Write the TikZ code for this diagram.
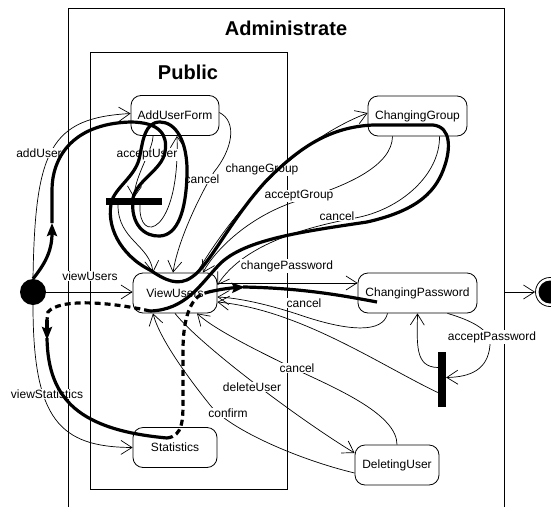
\documentclass[tikz,border=0pt]{standalone}
\usepackage{fontspec}
\setmainfont{Liberation Sans}
\usetikzlibrary{arrows.meta}
\begin{document}
\begin{tikzpicture}[x=1pt,y=-1pt,
  every node/.style={font=\fontsize{12}{14}\selectfont},
  state/.style={draw, line width=0.8pt, rounded corners=10pt, fill=white, minimum height=40pt, inner sep=0pt},
  lbl/.style={fill=white, inner sep=1pt},
  trans/.style={line width=0.7pt, -{Straight Barb[length=11pt,width=14pt,line width=0.7pt]}},
  flow/.style={line width=3.2pt},
  flowtip/.style={flow, -{Stealth[length=13pt,width=10pt,inset=2pt]}},
  flowdash/.style={line width=3.2pt, dash pattern=on 6pt off 4pt},
  syncbar/.style={fill=black, inner sep=0pt},
  frame/.style={draw, line width=0.8pt},
  title/.style={font=\fontsize{20}{24}\selectfont\bfseries}
]
\clip (0,0) rectangle (551,506);
\fill[white] (0,0) rectangle (551,506);

% composite states
\draw[frame] (68,530) -- (68,8) -- (504,8) -- (504,530);
\draw[frame] (90,52) rectangle (287,489);
\node[title] (tAdmin) at (286,28) {Administrate};
\node[title] (tPublic) at (188,72) {Public};

% simple states
\node[state, minimum width=88pt] (add) at (175,115.5) {AddUserForm};
\node[state, minimum width=99pt] (grp) at (417.5,116) {ChangingGroup};
\node[state, minimum width=84pt] (view) at (175,293) {ViewUsers};
\node[state, minimum width=119pt] (pwd) at (417.5,293) {ChangingPassword};
\node[state, minimum width=84pt] (stat) at (175,447.5) {Statistics};
\node[state, minimum width=84pt] (del) at (397,465) {DeletingUser};

% pseudo states
\node[circle, fill=black, minimum size=26pt, inner sep=0pt] (init) at (33,292) {};
\node[circle, draw, line width=0.8pt, fill=white, minimum size=29pt, inner sep=0pt] (final) at (550,292) {};
\node[circle, fill=black, minimum size=23pt, inner sep=0pt] (finalDot) at (550,292) {};
\node[syncbar, minimum width=56pt, minimum height=7pt] (hbar) at (134,201.5) {};
\node[syncbar, minimum width=8pt, minimum height=55pt] (vbar) at (442,379.5) {};
\coordinate (adminExit) at (504,292);

% transitions
\draw[trans] (init.north) .. controls (35,150) and (50,118) .. ([yshift=2pt]add.west);
\draw[trans] (init.east) -- (init.east -| view.west);
\draw[trans] (init.south) .. controls (33,420) and (60,447) .. (stat.west);
\draw[trans] ([xshift=-22pt]add.south) .. controls (153,150) and (135,175) .. (hbar.north);
\draw[trans] ([xshift=6pt]hbar.south) .. controls (138,245) and (180,235) .. ([xshift=2pt]add.south);
\draw[trans] ([xshift=-16pt]hbar.south) .. controls (118,240) and (150,245) .. ([xshift=-22pt]view.north);
\draw[trans] ([yshift=3pt]add.east) .. controls (238,122) and (232,150) .. (214,172) .. controls (200,195) and (178,240) .. ([xshift=-2pt]view.north);
\draw[trans] ([xshift=22pt]view.north) .. controls (225,225) and (285,145) .. ([yshift=3pt]grp.west);
\draw[trans] ([xshift=-25pt]grp.south) .. controls (392,165) and (350,185) .. (300,200) .. controls (250,215) and (215,250) .. ([xshift=28pt]view.north);
\draw[trans] ([xshift=22pt]grp.south) .. controls (440,175) and (400,210) .. (355,218) .. controls (290,230) and (240,250) .. ([yshift=8pt]view.east);
\draw[trans] ([yshift=10pt]view.east) -- ([yshift=10pt]pwd.west);
\draw[trans] ([xshift=-30pt]pwd.south) .. controls (383,333) and (350,332) .. (300,315) .. controls (270,305) and (240,298) .. ([yshift=-4pt]view.east);
\draw[trans] ([yshift=-13pt]vbar.west) .. controls (380,365) and (300,310) .. ([yshift=-9pt]view.east);
\draw[trans] ([yshift=12pt]vbar.west) .. controls (415,367) and (417,345) .. (pwd.south);
\draw[trans] ([xshift=30pt]pwd.south) .. controls (470,320) and (492,330) .. (490,345) .. controls (488,370) and (470,377) .. ([yshift=2pt]vbar.east);
\draw[trans] (del.north) .. controls (397,415) and (340,390) .. (297,370) .. controls (260,352) and (215,330) .. ([xshift=22pt]view.south);
\draw[trans] (view.south) .. controls (200,345) and (300,420) .. ([yshift=12pt]del.west);
\draw[trans] ([yshift=-8pt]del.west) .. controls (300,460) and (230,430) .. (210,405) .. controls (190,380) and (160,340) .. ([xshift=-22pt]view.south);
\draw[trans] (adminExit) -- (final.west);

% transition labels
\node[lbl] (lAddUser) at (39,153) {addUser};
\node[lbl] (lViewUsers) at (90,276) {viewUsers};
\node[lbl] (lViewStat) at (47,394) {viewStatistics};
\node[lbl] (lAcceptUser) at (147,155) {acceptUser};
\node[lbl] (lCancelAdd) at (202,179) {cancel};
\node[lbl] (lChangeGroup) at (262,169) {changeGroup};
\node[lbl] (lAcceptGroup) at (299,196) {acceptGroup};
\node[lbl] (lCancelGroup) at (337,216) {cancel};
\node[lbl] (lChangePwd) at (287,266) {changePassword};
\node[lbl] (lCancelPwd) at (304,303) {cancel};
\node[lbl] (lAcceptPwd) at (492,337) {acceptPassword};
\node[lbl] (lCancelDel) at (297,368) {cancel};
\node[lbl] (lDeleteUser) at (252,387) {deleteUser};
\node[lbl] (lConfirm) at (228,413) {confirm};

% highlighted scenario
\coordinate (up1) at (52,223);
\coordinate (loopEnd) at (150,311);
\coordinate (down1) at (47,320);
\coordinate (down1tip) at (47,340);
\coordinate (statIn) at (167,438);
\coordinate (back1) at (205,293);
\coordinate (right1) at (245,287);
\coordinate (pwdIn) at (377,302);
\draw[flowtip] (init.north) .. controls (44,265) and (52,252) .. (up1);
\draw[flow] (up1) -- (52,190) .. controls (52,160) and (70,124) .. (130,122)
  .. controls (160,122) and (168,135) .. (165,152) .. controls (162,170) and (137,180) .. (133,198)
  .. controls (130,225) and (145,237) .. (160,236) .. controls (178,235) and (186,210) .. (187,175)
  .. controls (188,140) and (175,122) .. (160,122) .. controls (145,122) and (143,140) .. (140,155)
  .. controls (137,175) and (118,185) .. (112,200)
  .. controls (105,225) and (120,255) .. (150,270) .. controls (165,280) and (178,287) .. (192,277)
  .. controls (210,265) and (230,220) .. (267,180) .. controls (300,147) and (330,127) .. (373,125)
  -- (433,125) .. controls (452,127) and (450,150) .. (445,165)
  .. controls (437,190) and (420,210) .. (367,222) .. controls (300,232) and (240,240) .. (217,267)
  .. controls (200,285) and (185,310) .. (loopEnd);
\draw[flowdash] (loopEnd) .. controls (110,302) and (60,298) .. (48,312) -- (down1);
\draw[flowtip] (down1) -- (down1tip);
\draw[flow] ([yshift=2pt]down1tip) .. controls (48,400) and (80,430) .. (statIn);
\draw[flowdash] (statIn) .. controls (183,436) and (183,420) .. (183,400) -- (183,350)
  .. controls (183,320) and (190,297) .. (back1);
\draw[flowtip] (back1) .. controls (215,290) and (230,288) .. (right1);
\draw[flow] ([xshift=-2pt]right1) .. controls (300,288) and (340,295) .. (pwdIn);
\end{tikzpicture}
\end{document}
